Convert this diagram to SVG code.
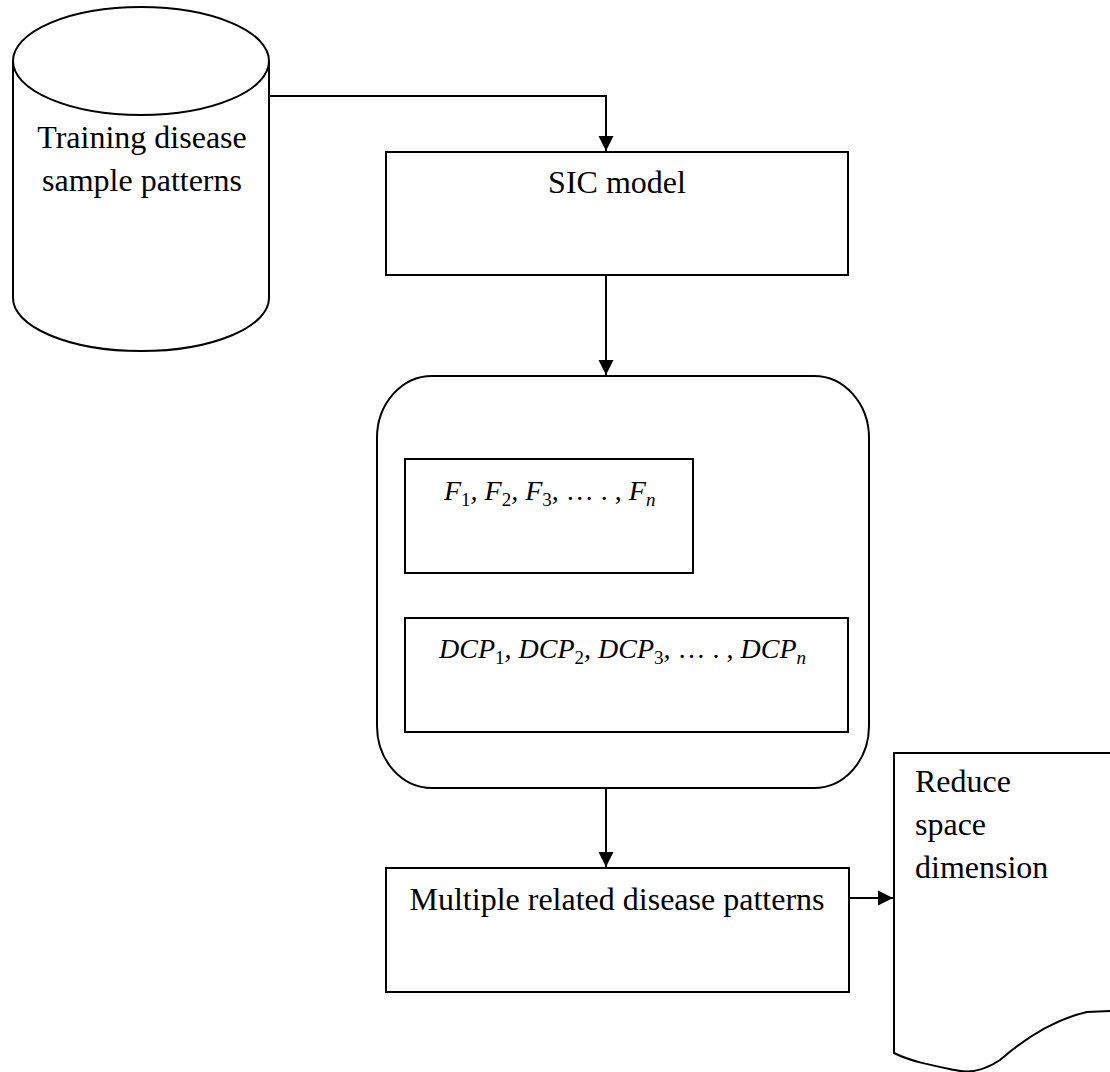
<svg xmlns="http://www.w3.org/2000/svg" width="1110" height="1072" viewBox="0 0 1110 1072">
<style>
.s{fill:#fff;stroke:#000;stroke-width:2}
.t{font-family:"Liberation Serif","Times New Roman",serif;font-size:32px;fill:#000}
.m{font-family:"Liberation Serif","Times New Roman",serif;font-style:italic;font-size:28px;fill:#000}
.sub{font-size:19px;font-style:normal}
.subi{font-size:19px}
.c{fill:none;stroke:#000;stroke-width:2}
</style>
<defs>
<marker id="ah" markerUnits="userSpaceOnUse" markerWidth="16" markerHeight="16" viewBox="0 0 16 16" refX="15" refY="8" orient="auto">
<path d="M0,0.5 L15,8 L0,15.5 Z" fill="#000"/>
</marker>
</defs>
<rect width="1110" height="1072" fill="#fff"/>
<g id="connectors">
<path class="c" d="M270,96 H606 V151" marker-end="url(#ah)"/>
<path class="c" d="M606,275 V375" marker-end="url(#ah)"/>
<path class="c" d="M606,788 V867" marker-end="url(#ah)"/>
<path class="c" d="M849,898 H893" marker-end="url(#ah)"/>
</g>
<g id="training">
<path class="s" d="M13,61 V298 A128,53 0 0 0 269,298 V61"/>
<ellipse class="s" cx="141" cy="61" rx="128" ry="54"/>
<text class="t" x="142" y="148" text-anchor="middle">Training disease</text>
<text class="t" x="142" y="191" text-anchor="middle">sample patterns</text>
</g>
<g id="sic">
<rect class="s" x="386" y="152" width="462" height="123"/>
<text class="t" x="617" y="193" text-anchor="middle">SIC model</text>
</g>
<g id="container">
<rect class="s" x="377" y="376" width="492" height="412" rx="55" ry="62"/>
</g>
<g id="features">
<rect class="s" x="405" y="459" width="288" height="114"/>
<text class="m" x="444" y="500">F<tspan class="sub" dy="6">1</tspan><tspan dy="-6">, F</tspan><tspan class="sub" dy="6">2</tspan><tspan dy="-6">, F</tspan><tspan class="sub" dy="6">3</tspan><tspan dy="-6" font-style="normal">, … . , </tspan><tspan>F</tspan><tspan class="subi" dy="6">n</tspan></text>
</g>
<g id="dcp">
<rect class="s" x="405" y="618" width="443" height="114"/>
<text class="m" x="439" y="658">DCP<tspan class="sub" dy="6">1</tspan><tspan dy="-6">, DCP</tspan><tspan class="sub" dy="6">2</tspan><tspan dy="-6">, DCP</tspan><tspan class="sub" dy="6">3</tspan><tspan dy="-6" font-style="normal">, … . , </tspan><tspan>DCP</tspan><tspan class="subi" dy="6">n</tspan></text>
</g>
<g id="multiple">
<rect class="s" x="386" y="868" width="463" height="124"/>
<text class="t" x="617" y="910" text-anchor="middle">Multiple related disease patterns</text>
</g>
<g id="reduce">
<path class="s" d="M894,753 H1112 V1011 L1087,1012 C1060,1018 1030,1034 1000,1060 C985,1070 970,1074 955,1070 C935,1066 912,1062 894,1053 Z"/>
<text class="t" x="915" y="792">Reduce</text>
<text class="t" x="915" y="835">space</text>
<text class="t" x="915" y="878">dimension</text>
</g>
</svg>
